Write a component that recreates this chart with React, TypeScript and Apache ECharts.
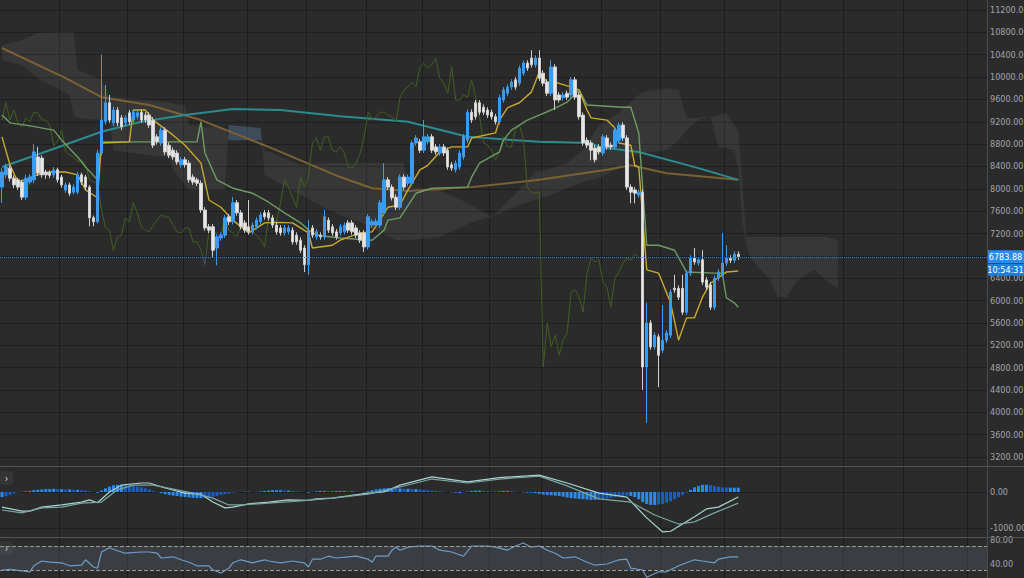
import React, { useEffect, useRef } from 'react';
import * as echarts from 'echarts';

// ---------- DATA ----------
const slots: string[] = Array.from({ length: 248 }, (_, i) => String(i + 1));
const gridLineSlots = [15, 32, 46, 62, 77, 92, 106, 123, 136, 151, 166, 182, 196, 212, 227, 243];

const opens = [
  8030, 8250, 8370, 8190, 8160, 8120, 7850, 8120, 8160, 8570,
  8550, 8300, 8290, 8250, 8340, 8210, 7980, 8070, 7940, 7940,
  8250, 8210, 8030, 7480, 7410, 8640, 9200, 9540, 9180, 9410,
  9270, 9180, 9360, 9230, 9290, 9370, 9320, 9320, 9230, 8930,
  8820, 9050, 8780, 8690, 8640, 8430, 8520, 8460, 8210, 8160,
  8100, 7620, 7320, 7320, 6940, 7120, 7170, 7500, 7410, 7750,
  7570, 7390, 7320, 7230, 7320, 7410, 7570, 7570, 7480, 7350,
  7300, 7210, 7230, 7260, 7170, 7080, 6940, 6640, 7300, 7140,
  7170, 7140, 7440, 7320, 7230, 7210, 7230, 7390, 7390, 7300,
  7210, 7210, 6960, 7350, 7350, 7350, 7570, 8160, 8030, 7850,
  7670, 8210, 8100, 8100, 8820, 8840, 8690, 8840, 8930, 8750,
  8640, 8750, 8690, 8430, 8340, 8390, 8570, 8870, 9370, 9540,
  9540, 9460, 9410, 9370, 9290, 9200, 9590, 9710, 9820, 9950,
  9890, 10070, 10250, 10340, 10220, 10340, 10070, 9910, 9710, 10180,
  9680, 9630, 9710, 9680, 9950, 9680, 9320, 8870, 8820, 8730,
  8750, 8640, 8910, 8780, 8750, 8870, 9140, 8910, 8030, 7980,
  7890, 7940, 4810, 5600, 5170, 5350, 5110, 5290, 5380, 6220,
  6220, 6220, 5790, 6490, 6760, 6670, 6730, 6370, 6280, 5880,
  6400, 6460, 6670, 6760, 6720, 6830,
];
const closes = [
  8300, 8390, 8190, 8070, 8030, 7850, 8190, 8210, 8660, 8280,
  8250, 8250, 8240, 8340, 8160, 8070, 8070, 7920, 8030, 8250,
  8120, 8030, 7480, 7410, 8640, 9230, 9540, 9230, 9410, 9180,
  9110, 9270, 9200, 9370, 9360, 9230, 9230, 9140, 8780, 8840,
  9050, 8660, 8600, 8570, 8480, 8520, 8430, 8160, 8120, 8100,
  7620, 7300, 7260, 6900, 7140, 7170, 7480, 7410, 7750, 7570,
  7320, 7260, 7230, 7350, 7440, 7530, 7500, 7480, 7350, 7230,
  7210, 7300, 7300, 7050, 7050, 6900, 6640, 7260, 7170, 7230,
  7140, 7500, 7260, 7210, 7140, 7320, 7350, 7260, 7230, 7170,
  7080, 6960, 7500, 7410, 7420, 7750, 8160, 8030, 7840, 7670,
  8210, 8030, 8210, 8820, 8910, 8690, 8930, 8930, 8690, 8660,
  8750, 8640, 8390, 8370, 8460, 8640, 8930, 9370, 9230, 9290,
  9370, 9370, 9320, 9290, 9200, 9630, 9770, 9820, 9910, 9820,
  10160, 10250, 10160, 10220, 10340, 9980, 9890, 9710, 10180, 9590,
  9590, 9680, 9640, 9950, 9640, 9290, 8820, 8780, 8690, 8520,
  8660, 8930, 8750, 8750, 9050, 9140, 8910, 8030, 7940, 7920,
  7940, 4810, 5600, 5170, 5380, 5020, 5290, 5420, 6150, 6190,
  6060, 5790, 6490, 6760, 6690, 6730, 6330, 6240, 5880, 6400,
  6510, 6670, 6760, 6720, 6830, 6783.88,
];
const lows = [
  7750, 8190, 8130, 8010, 7980, 7800, 7800, 8080, 8100, 8230,
  8200, 8180, 8190, 8200, 8110, 8020, 7930, 7870, 7900, 7900,
  8070, 7980, 7330, 7330, 7380, 8590, 9150, 9180, 9120, 9120,
  9050, 9120, 9150, 9180, 9240, 9180, 9180, 9090, 8730, 8790,
  8770, 8600, 8550, 8520, 8430, 8380, 8380, 8110, 8070, 8050,
  7570, 7250, 7210, 6760, 6630, 7070, 7120, 7350, 7360, 7520,
  7270, 7210, 7180, 7180, 7270, 7360, 7450, 7430, 7300, 7180,
  7160, 7160, 7180, 7000, 7000, 6850, 6510, 6460, 7120, 7090,
  7090, 7090, 7210, 7160, 7090, 7160, 7180, 7210, 7180, 7120,
  7030, 6870, 6910, 7300, 7300, 7300, 7520, 7980, 7790, 7620,
  7620, 7980, 8050, 8050, 8770, 8640, 8640, 8790, 8640, 8610,
  8590, 8590, 8340, 8320, 8290, 8340, 8520, 8820, 9180, 9240,
  9320, 9320, 9270, 9240, 9150, 9150, 9540, 9660, 9770, 9770,
  9840, 10020, 10110, 10170, 10170, 9930, 9840, 9660, 9660, 9410,
  9540, 9580, 9590, 9630, 9590, 9240, 8770, 8730, 8510, 8470,
  8610, 8590, 8700, 8700, 8700, 8820, 8860, 7980, 7740, 7740,
  7840, 4400, 3810, 5120, 5120, 4450, 5060, 5240, 5330, 6140,
  6010, 5740, 5740, 6440, 6640, 6620, 6280, 6190, 5830, 5830,
  6350, 6410, 6620, 6670, 6670, 6730,
];
const highs = [
  8370, 8450, 8420, 8240, 8200, 8160, 8250, 8260, 8800, 8750,
  8600, 8340, 8330, 8390, 8380, 8250, 8110, 8110, 8080, 8300,
  8290, 8250, 8070, 7520, 8700, 10400, 9860, 9680, 9470, 9460,
  9320, 9320, 9410, 9420, 9410, 9420, 9370, 9370, 9280, 8980,
  9100, 9100, 8830, 8740, 8690, 8570, 8570, 8510, 8260, 8200,
  8150, 7670, 7370, 7370, 7190, 7220, 7530, 7550, 7850, 7800,
  7620, 7440, 7800, 7400, 7490, 7580, 7620, 7620, 7530, 7400,
  7350, 7350, 7350, 7310, 7220, 7130, 6990, 7440, 7350, 7280,
  7220, 7620, 7490, 7370, 7280, 7370, 7400, 7440, 7440, 7350,
  7260, 7260, 7550, 7460, 7470, 7800, 8460, 8210, 8080, 7900,
  8260, 8260, 8260, 8870, 8960, 8890, 9230, 8980, 8980, 8800,
  8800, 8800, 8740, 8480, 8510, 8690, 8980, 9420, 9420, 9590,
  9590, 9510, 9460, 9420, 9340, 9680, 9820, 9870, 9960, 10000,
  10210, 10300, 10300, 10480, 10390, 10480, 10120, 9960, 10300, 10230,
  9730, 9730, 9760, 10000, 10000, 9730, 9370, 8920, 8870, 8780,
  8800, 8980, 8960, 8830, 9100, 9190, 9190, 8960, 8080, 8030,
  7990, 7990, 5960, 5650, 5430, 5400, 5920, 5470, 6200, 6460,
  6270, 6460, 6540, 6810, 6940, 6780, 6900, 6420, 6330, 6450,
  6560, 7210, 6990, 6810, 6880, 6880,
];
const lastTime = '10:54:31';

// Ichimoku lines [slot index, price]
const tenkan = [
  [0, 8930], [2, 8430], [4, 8120], [9, 8250], [12, 8300], [16, 8300], [19, 8250], [21, 7980], [24, 7840], [25, 8820],
  [32, 8840], [33, 9410], [36, 9410], [38, 9230], [43, 8960], [46, 8780], [50, 8460], [52, 7800], [55, 7670], [58, 7440],
  [62, 7210], [66, 7390], [69, 7400], [73, 7390], [77, 7210], [78, 6940], [83, 6990], [85, 7080], [90, 7210], [93, 7230],
  [97, 7670], [100, 7710], [102, 7980], [105, 8340], [107, 8420], [110, 8660], [113, 8750], [117, 8750], [118, 8910], [124, 9000],
  [125, 9230], [127, 9450], [130, 9540], [133, 9730], [135, 10090], [137, 9910], [139, 9910], [143, 9820], [145, 9770], [147, 9410],
  [148, 9270], [152, 9230], [154, 9090], [155, 8820], [158, 8780], [159, 8420], [160, 8390], [162, 6550], [165, 6490], [168, 5960],
  [170, 5290], [172, 5690], [174, 5690], [176, 6060], [178, 6310], [182, 6510], [185, 6530],
];
const kijun = [
  [0, 9320], [2, 9180], [6, 9140], [13, 9050], [15, 8870], [19, 8570], [21, 8390], [24, 8160], [25, 8840], [49, 8840],
  [50, 9200], [51, 8640], [54, 8160], [58, 8010], [63, 7920], [67, 7760], [71, 7570], [75, 7390], [78, 7210], [80, 7160],
  [85, 7120], [93, 7080], [96, 7260], [97, 7440], [100, 7480], [104, 7920], [108, 8010], [117, 8030], [118, 8210], [120, 8460],
  [125, 8660], [126, 8870], [128, 9050], [132, 9230], [135, 9320], [138, 9410], [142, 9550], [145, 9770], [147, 9500], [156, 9460],
  [158, 9460], [160, 9000], [162, 6990], [165, 6990], [169, 6900], [172, 6510], [179, 6490], [181, 6490], [182, 6050], [184, 5960],
  [185, 5880],
];
const chikouShift = 25;
const cloudSlots = [0, 5, 9, 17, 18, 19, 25, 27, 28, 37, 42, 43, 46, 47, 56, 57, 65, 66, 75, 82, 85, 90, 99, 101, 102, 110, 118, 123, 130, 134, 138, 142, 146, 150, 155, 159, 161, 167, 170, 172, 175, 178, 180, 182, 184, 185, 186, 187, 188, 190, 193, 195, 197, 200, 204, 207, 210];
const spanA = [10300, 10220, 9980, 9680, 9320, 9270, 9230, 9230, 8690, 8600, 8570, 8340, 8070, 7980, 7980, 9140, 9090, 8250, 7890, 7620, 7530, 7400, 7080, 7080, 7080, 7140, 7400, 7500, 7980, 8300, 8370, 8460, 8690, 9140, 9360, 9630, 9730, 9800, 9770, 9270, 9270, 9290, 8750, 8730, 8690, 8340, 7440, 6990, 6760, 6600, 6370, 6060, 6060, 6370, 6550, 6370, 6220];
const spanB = [10570, 10660, 10790, 10810, 10810, 10130, 9950, 9640, 9640, 9590, 9540, 9520, 9500, 9140, 9090, 8870, 8870, 8690, 8430, 8460, 8460, 8460, 8460, 8460, 8030, 7980, 7710, 7500, 7710, 7800, 7890, 8010, 8120, 8190, 8370, 8600, 8640, 8690, 8870, 9050, 9230, 9290, 9320, 9360, 9140, 9050, 8160, 7140, 7140, 7140, 7140, 7140, 7140, 7140, 7140, 7140, 7080];

// Moving averages [slot index, price]
const maSlow = [[0, 8390], [12, 8690], [25, 9020], [35, 9200], [46, 9320], [58, 9430], [70, 9410], [85, 9300], [102, 9200], [117, 8930], [135, 8840], [148, 8820], [150, 8750], [160, 8660], [175, 8370], [185, 8160]];
const maLong = [[0, 10520], [16, 9980], [25, 9640], [37, 9500], [50, 9230], [67, 8750], [85, 8210], [93, 8010], [102, 7960], [118, 8030], [135, 8160], [152, 8340], [158, 8420], [167, 8280], [185, 8160]];

// MACD
const macdHist = [
  -140, -120, -80,
  -40, -10, 10, 20, 30,
  50, 60, 70, 80, 80, 90, 80, 80, 70, 70, 60, 60, 50, 40,
  20, 0, -20,
  40, 100, 150, 190, 200, 200, 190, 180, 170, 150, 130, 100, 70,
  30, -10, -30, -60, -80, -100, -110, -130, -140, -150, -160, -170, -170, -160, -150, -130, -110, -80, -60, -40, -20,
  -10, 0, 10, 10, 0, -10,
  20, 30, 40, 50, 50, 50, 40, 40, 30, 20, 10,
  0, -20, 10, 20, 30, 30, 20, 20, 30, 30, 30, 20, 20, 10, 0, -10,
  20, 50, 70, 90, 100, 110, 110, 100, 100,
  90, 90, 80, 80, 70, 60, 50, 40, 30, 20, 10,
  0, -10, -20, -30, -10, 10, 30, 40, 40, 30, 20, 10, 10, 20, 30, 30, 20, 10, 0, -10, -20, -20, -30,
  -50, -70, -80, -90, -100, -110, -130, -150, -170, -180, -190, -200, -210, -220, -220, -210, -200, -180,
  -160, -140, -120, -110, -100, -110, -140,
  -200, -280, -330, -360, -360, -350, -330, -300, -260, -200, -140, -80,
  -20, 60, 130, 170, 200, 200, 190, 170, 150, 130, 120, 120, 120, 120,
];
const macdLine = [[0, -420], [5, -530], [7, -530], [10, -420], [15, -360], [20, -280], [22, -220], [24, -300], [27, 0], [30, 190], [35, 250], [37, 250], [41, 110], [46, -30], [50, -60], [53, -280], [56, -440], [58, -420], [62, -330], [67, -280], [72, -220], [77, -230], [79, -190], [83, -170], [87, -110], [92, -30], [96, 0], [100, 190], [108, 420], [117, 280], [125, 400], [135, 470], [142, 250], [150, -30], [157, -140], [162, -720], [166, -1110], [168, -1090], [174, -690], [177, -470], [180, -420], [185, -140]];
const signalLine = [[0, -500], [5, -580], [10, -440], [15, -420], [20, -310], [25, -280], [29, 60], [33, 190], [38, 190], [43, 80], [48, -30], [53, -170], [57, -360], [60, -360], [67, -310], [75, -250], [83, -170], [92, -60], [100, 140], [108, 360], [117, 250], [125, 360], [135, 440], [142, 170], [150, -190], [158, -280], [164, -640], [170, -890], [174, -830], [179, -580], [185, -310]];

// RSI
const rsi = [[0, 30], [2, 31], [7, 27], [8, 37], [10, 45], [12, 43], [15, 42], [17, 37], [20, 38], [21, 47], [23, 35], [24, 33], [25, 60], [27, 67], [29, 62], [31, 58], [35, 60], [37, 60], [39, 58], [40, 50], [43, 52], [45, 47], [47, 43], [49, 37], [52, 37], [53, 30], [55, 25], [57, 33], [58, 42], [60, 47], [63, 42], [66, 47], [67, 45], [70, 42], [73, 45], [76, 42], [77, 35], [78, 48], [80, 48], [82, 53], [84, 50], [87, 52], [89, 53], [92, 48], [93, 43], [94, 53], [97, 53], [98, 63], [99, 68], [100, 63], [102, 68], [105, 70], [108, 70], [110, 63], [113, 60], [116, 53], [118, 70], [122, 70], [124, 68], [127, 63], [129, 70], [131, 75], [133, 68], [135, 70], [137, 63], [139, 58], [141, 50], [144, 52], [147, 43], [149, 38], [152, 40], [155, 47], [157, 48], [158, 33], [161, 30], [162, 18], [165, 27], [167, 27], [170, 37], [172, 42], [174, 47], [176, 45], [179, 42], [180, 48], [183, 52], [185, 52]];
const rsiBand = [30, 70];

// ---------- STYLE ----------
const BG = '#2b2b2b';
const GRID = '#1e1e20';
const LABEL = '#a4a4a4';
const UP = '#3a9bef';
const DOWN = '#e6e6e6';
const AXIS_FONT = "'Liberation Sans Narrow', 'DejaVu Sans Condensed', Roboto, sans-serif";

export default function App() {
  const ref = useRef<HTMLDivElement>(null);

  useEffect(() => {
    const chart = echarts.init(ref.current as HTMLDivElement, null, { renderer: 'svg' });
    const candles = opens.map((o, i) => [o, closes[i], lows[i], highs[i]]);
    const chikou = closes.slice(chikouShift).map((c, i) => [i, c]);
    const lastClose = closes[closes.length - 1];

    const xAxis = (gridIndex: number) => ({
      type: 'category',
      gridIndex,
      data: slots,
      boundaryGap: true,
      axisLine: { show: false },
      axisTick: { show: false },
      axisLabel: { show: false },
      splitLine: {
        show: true,
        interval: (i: number) => gridLineSlots.includes(i),
        lineStyle: { color: GRID, width: 1 },
      },
    });
    const yLabel = (hide: number[] = []) => ({
      color: LABEL,
      fontSize: 9,
      fontFamily: AXIS_FONT,
      margin: 3,
      showMinLabel: false,
      showMaxLabel: false,
      formatter: (v: number) => (hide.includes(v) ? '' : v.toFixed(2)),
    });
    const ySplit = { show: true, showMinLine: false, showMaxLine: false, lineStyle: { color: GRID, width: 1 } };

    const cloudRender = (_params: any, api: any) => {
      const regions: any[] = [];
      let cur: any = { bull: spanA[0] >= spanB[0], top: [], bot: [] };
      const pa = cloudSlots.map((s, k) => api.coord([s, spanA[k]]));
      const pb = cloudSlots.map((s, k) => api.coord([s, spanB[k]]));
      cur.top.push(pa[0]);
      cur.bot.push(pb[0]);
      for (let k = 1; k < cloudSlots.length; k++) {
        const d0 = spanA[k - 1] - spanB[k - 1];
        const d1 = spanA[k] - spanB[k];
        if ((d0 > 0 && d1 < 0) || (d0 < 0 && d1 > 0)) {
          const t = d0 / (d0 - d1);
          const px = [pa[k - 1][0] + t * (pa[k][0] - pa[k - 1][0]), pa[k - 1][1] + t * (pa[k][1] - pa[k - 1][1])];
          cur.top.push(px);
          cur.bot.push(px);
          regions.push(cur);
          cur = { bull: d1 > 0, top: [px], bot: [px] };
        }
        cur.top.push(pa[k]);
        cur.bot.push(pb[k]);
      }
      regions.push(cur);
      return {
        type: 'group',
        children: regions.map((r) => ({
          type: 'polygon',
          shape: { points: r.top.concat(r.bot.slice().reverse()) },
          style: { fill: r.bull ? 'rgba(85,120,158,0.42)' : 'rgba(255,255,255,0.06)', stroke: 'none' },
        })),
      };
    };

    const line = (name: string, data: any, color: string, width: number, z: number, xi = 0) => ({
      name,
      type: 'line',
      xAxisIndex: xi,
      yAxisIndex: xi,
      data,
      showSymbol: false,
      symbol: 'none',
      silent: true,
      z,
      lineStyle: { color, width },
    });

    const gridBase = { left: 0, right: 37, outerBoundsMode: 'none', containLabel: false };

    chart.setOption({
      animation: false,
      backgroundColor: BG,
      textStyle: { fontFamily: 'Roboto' },
      grid: [
        { ...gridBase, top: 0, height: 479.35 },
        { ...gridBase, top: 456, height: 108 },
        { ...gridBase, top: 516, height: 72 },
      ],
      xAxis: [xAxis(0), xAxis(1), xAxis(2)],
      yAxis: [
        { type: 'value', gridIndex: 0, position: 'right', min: 2800, max: 11379, interval: 400, axisLine: { show: false }, axisTick: { show: false }, axisLabel: yLabel([6800]), splitLine: ySplit },
        { type: 'value', gridIndex: 1, position: 'right', min: -2000, max: 1000, interval: 1000, axisLine: { show: false }, axisTick: { show: false }, axisLabel: yLabel(), splitLine: ySplit },
        { type: 'value', gridIndex: 2, position: 'right', min: 0, max: 120, interval: 40, axisLine: { show: false }, axisTick: { show: false }, axisLabel: yLabel(), splitLine: { show: false } },
      ],
      series: [
        {
          name: 'cloud',
          type: 'custom',
          xAxisIndex: 0,
          yAxisIndex: 0,
          data: [[0, spanA[0]]],
          renderItem: cloudRender,
          silent: true,
          clip: true,
          z: 1,
        },
        line('MA long', maLong, '#7b6134', 2, 2),
        line('MA slow', maSlow, '#2b8b8f', 2, 2),
        line('Chikou', chikou, '#415f22', 1, 3),
        line('Kijun', kijun, '#6e9b63', 1.4, 3),
        line('Tenkan', tenkan, '#c9a92e', 1.4, 3),
        {
          name: 'price',
          type: 'candlestick',
          xAxisIndex: 0,
          yAxisIndex: 0,
          data: candles,
          barWidth: 3,
          z: 4,
          silent: true,
          itemStyle: { color: UP, color0: DOWN, borderColor: UP, borderColor0: '#cfcfcf', borderWidth: 1 },
          markLine: {
            silent: true,
            symbol: 'none',
            label: { show: false },
            lineStyle: { type: 'dotted', color: '#2a7fd4', width: 1 },
            data: [{ yAxis: lastClose }],
          },
        },
        {
          name: 'MACD hist',
          type: 'bar',
          xAxisIndex: 1,
          yAxisIndex: 1,
          data: macdHist,
          barWidth: 3,
          silent: true,
          itemStyle: {
            color: (p: any) => {
              const i = p.dataIndex;
              const prev = i > 0 ? macdHist[i - 1] : macdHist[i];
              return Math.abs(macdHist[i]) >= Math.abs(prev) ? '#2a8cf0' : '#1c5fc2';
            },
          },
        },
        line('MACD', macdLine, '#a9d3cf', 1.2, 3, 1),
        line('Signal', signalLine, '#7aa6a2', 1.2, 3, 1),
        {
          ...line('RSI', rsi, '#6e9cc8', 1.2, 3, 2),
          markArea: {
            silent: true,
            itemStyle: { color: 'rgba(120,140,160,0.2)' },
            data: [[{ yAxis: rsiBand[0] }, { yAxis: rsiBand[1] }]],
          },
          markLine: {
            silent: true,
            symbol: 'none',
            label: { show: false },
            lineStyle: { type: 'dashed', color: '#9a9a9a', width: 1 },
            data: [{ yAxis: rsiBand[1] }, { yAxis: rsiBand[0] }],
          },
        },
      ],
    });

    const py = chart.convertToPixel({ yAxisIndex: 0 }, lastClose) as number;
    const btn = (y: number) => ({
      type: 'group',
      x: 1,
      y,
      z: 100,
      children: [
        { type: 'rect', shape: { x: 0, y: 0, width: 11, height: 12, r: 2 }, style: { fill: '#333335', stroke: '#3d3d3d' } },
        { type: 'text', style: { text: '›', x: 5.5, y: 6, fill: '#cfcfcf', fontSize: 11, align: 'center', verticalAlign: 'middle', fontFamily: 'Roboto' } },
      ],
    });
    chart.setOption({
      graphic: [
        { type: 'line', z: 50, shape: { x1: 0, y1: 466.5, x2: 1024, y2: 466.5 }, style: { stroke: '#545454', lineWidth: 1 } },
        { type: 'line', z: 50, shape: { x1: 0, y1: 537.5, x2: 1024, y2: 537.5 }, style: { stroke: '#545454', lineWidth: 1 } },
        { type: 'line', z: 50, shape: { x1: 987.5, y1: 0, x2: 987.5, y2: 578 }, style: { stroke: '#4a4a4a', lineWidth: 1 } },
        btn(472),
        btn(542),
        { type: 'rect', z: 100, shape: { x: 988, y: py - 6.5, width: 36, height: 13 }, style: { fill: '#2a8be8' } },
        { type: 'text', z: 101, style: { text: lastClose.toFixed(2), x: 1005.5, y: py, fill: '#ffffff', fontSize: 9, align: 'center', verticalAlign: 'middle', fontFamily: AXIS_FONT } },
        { type: 'rect', z: 100, shape: { x: 988, y: py + 7, width: 36, height: 12 }, style: { fill: '#1f80dc' } },
        { type: 'text', z: 101, style: { text: lastTime, x: 1005.5, y: py + 13, fill: '#ffffff', fontSize: 9, align: 'center', verticalAlign: 'middle', fontFamily: AXIS_FONT } },
      ],
    });

    return () => chart.dispose();
  }, []);

  return <div ref={ref} style={{ position: 'fixed', left: 0, top: 0, width: 1024, height: 578 }} />;
}
